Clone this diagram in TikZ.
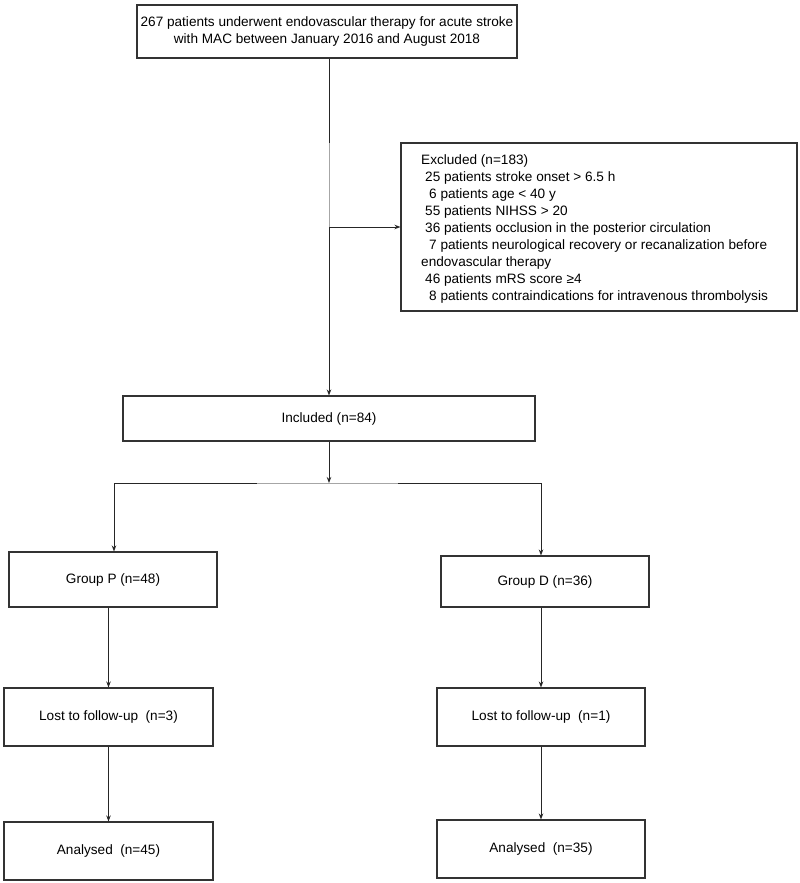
\documentclass[tikz,border=0pt]{standalone}
\usepackage{fontspec}
\setmainfont{Liberation Sans}
\usetikzlibrary{arrows.meta}
\begin{document}
\begin{tikzpicture}[x=1pt,y=-1pt,
 txt/.style={font=\fontsize{13.6}{17}\selectfont},
 box/.style={draw=black!80,line width=1.1pt,inner sep=0pt,txt,align=center,fill=white},
 conn/.style={draw=black!85,line width=0.9pt},
 arr/.style={conn,-{Stealth[length=6pt,width=4.5pt]}}]
\useasboundingbox[fill=white] (0,0) rectangle (800,883);
% boxes
\node[box,minimum width=380pt,minimum height=53pt] (top) at (327,31.5)
 {267 patients underwent endovascular therapy for acute stroke\\with MAC between January 2016 and August 2018};
\node[box,minimum width=396pt,minimum height=168pt] (exc) at (599,227) {};
\node[txt,anchor=north west,inner sep=0pt,align=left] (exctext) at (421,154)
 {Excluded (n=183)\\
 \hspace*{4pt}25 patients stroke onset > 6.5 h\\
 \hspace*{8pt}6 patients age < 40 y\\
 \hspace*{4pt}55 patients NIHSS > 20\\
 \hspace*{4pt}36 patients occlusion in the posterior circulation\\
 \hspace*{8pt}7 patients neurological recovery or recanalization before\\
 endovascular therapy\\
 \hspace*{4pt}46 patients mRS score ≥4\\
 \hspace*{8pt}8 patients contraindications for intravenous thrombolysis};
\node[box,minimum width=412pt,minimum height=45pt] (inc) at (329,418.5) {Included (n=84)};
\node[box,minimum width=208pt,minimum height=55pt] (gp) at (113,579.5) {Group P (n=48)};
\node[box,minimum width=208pt,minimum height=51pt] (gd) at (545,581.5) {Group D (n=36)};
\node[box,minimum width=209pt,minimum height=58pt] (lp) at (108.5,717) {Lost to follow-up\ \ (n=3)};
\node[box,minimum width=208pt,minimum height=58pt] (ld) at (541,717) {Lost to follow-up\ \ (n=1)};
\node[box,minimum width=209pt,minimum height=58pt] (ap) at (108.5,851) {Analysed\ \ (n=45)};
\node[box,minimum width=208pt,minimum height=58pt] (ad) at (541,849) {Analysed\ \ (n=35)};
% connectors
\coordinate (br) at (inc.north |- exc.west);
\coordinate (g1) at (329,143);
\draw[arr] (inc.north |- top.south) -- (inc.north);
\draw[draw=black!35,line width=0.9pt] (g1) -- (br);
\draw[arr] (br) -- (exc.west);
\coordinate (j) at (329,483);
\coordinate (jl) at (114,483);
\coordinate (jr) at (541,483);
\coordinate (h1) at (257,483);
\coordinate (h2) at (398,483);
\draw[conn] (jl) -- (jr);
\draw[draw=black!35,line width=0.9pt] (h1) -- (h2);
\draw[arr] (inc.south) -- (j);
\draw[arr] (jl) -- (jl |- gp.north);
\draw[arr] (jr) -- (jr |- gd.north);
\draw[arr] (lp.north |- gp.south) -- (lp.north);
\draw[arr] (lp.south) -- (ap.north);
\draw[arr] (ld.north |- gd.south) -- (ld.north);
\draw[arr] (ld.south) -- (ad.north);
\end{tikzpicture}
\end{document}
